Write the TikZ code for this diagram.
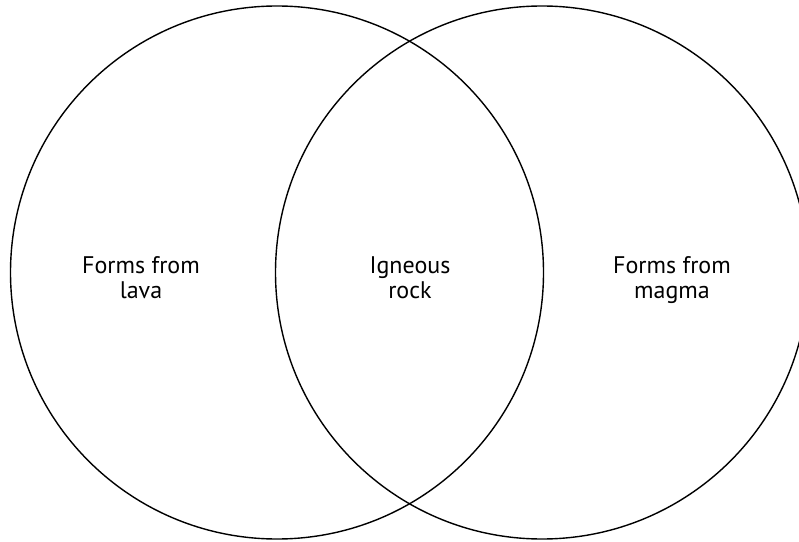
\documentclass[tikz,border=0pt]{standalone}
\usepackage{fontspec}
\setmainfont{PT Sans}
\begin{document}
\begin{tikzpicture}[x=1pt,y=1pt,
  ring/.style={draw=black, line width=1.4pt},
  lbl/.style={align=center, font=\fontsize{24}{25}\selectfont, inner sep=0pt}]
\useasboundingbox (0,0) rectangle (799,541);
\clip (0,0) rectangle (799,541);
\node[ring, circle, minimum size=533pt, inner sep=0pt] (lc) at (277,268.5) {};
\node[ring, circle, minimum size=533pt, inner sep=0pt] (rc) at (542,268.5) {};
\node[lbl] (lava) at (141,261) {Forms from\\lava\vphantom{g}};
\node[lbl] (ign) at (410,261) {Igneous\\rock\vphantom{g}};
\node[lbl] (magma) at (672,261) {Forms from\\magma};
\end{tikzpicture}
\end{document}
